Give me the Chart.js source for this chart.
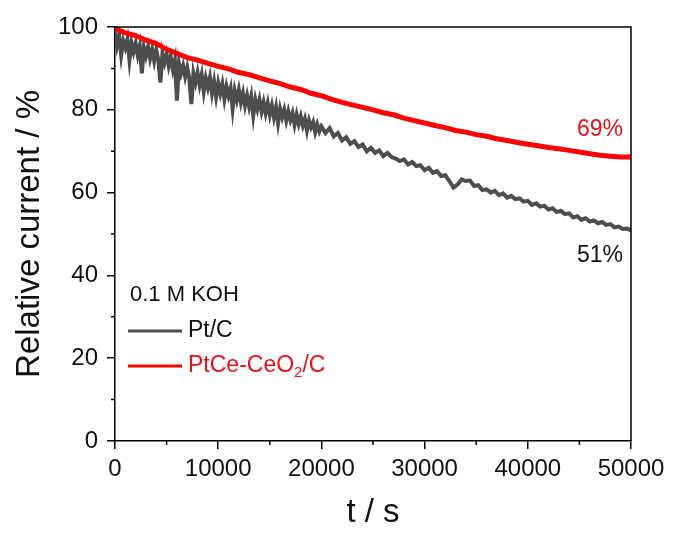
<!DOCTYPE html>
<html>
<head>
<meta charset="utf-8">
<script src="https://cdn.jsdelivr.net/npm/chart.js@4.4.1/dist/chart.umd.min.js"></script>
<style>
  html, body { margin: 0; padding: 0; background: #fff; }
  #wrap { width: 675px; height: 535px; }
</style>
</head>
<body>
<div id="wrap"><canvas id="c" width="675" height="535"></canvas></div>
<script>
// Pt/C chronoamperometry: 200 s steps up to 20000 s, then 400 s
const ptTime = [
  0, 200, 400, 600, 800, 1000, 1200, 1400, 1600, 1800,
  2000, 2200, 2400, 2600, 2800, 3000, 3200, 3400, 3600, 3800,
  4000, 4200, 4400, 4600, 4800, 5000, 5200, 5400, 5600, 5800,
  6000, 6200, 6400, 6600, 6800, 7000, 7200, 7400, 7600, 7800,
  8000, 8200, 8400, 8600, 8800, 9000, 9200, 9400, 9600, 9800,
  10000, 10200, 10400, 10600, 10800, 11000, 11200, 11400, 11600, 11800,
  12000, 12200, 12400, 12600, 12800, 13000, 13200, 13400, 13600, 13800,
  14000, 14200, 14400, 14600, 14800, 15000, 15200, 15400, 15600, 15800,
  16000, 16200, 16400, 16600, 16800, 17000, 17200, 17400, 17600, 17800,
  18000, 18200, 18400, 18600, 18800, 19000, 19200, 19400, 19600, 19800,
  20000, 20400, 20800, 21200, 21600, 22000, 22400, 22800, 23200, 23600,
  24000, 24400, 24800, 25200, 25600, 26000, 26400, 26800, 27200, 27600,
  28000, 28400, 28800, 29200, 29600, 30000, 30400, 30800, 31200, 31600,
  32000, 32400, 32800, 33200, 33600, 34000, 34400, 34800, 35200, 35600,
  36000, 36400, 36800, 37200, 37600, 38000, 38400, 38800, 39200, 39600,
  40000, 40400, 40800, 41200, 41600, 42000, 42400, 42800, 43200, 43600,
  44000, 44400, 44800, 45200, 45600, 46000, 46400, 46800, 47200, 47600,
  48000, 48400, 48800, 49200, 49600, 50000
];
const ptCurrent = [
  99.0, 95.5, 97.8, 93.2, 96.6, 95.0, 97.0, 92.0, 96.2, 94.0,
  96.0, 93.2, 95.4, 88.8, 95.0, 93.0, 95.2, 92.4, 94.6, 91.8,
  94.4, 92.0, 86.6, 93.6, 91.4, 93.4, 90.6, 92.8, 89.8, 92.0,
  82.2, 91.2, 88.8, 90.6, 88.0, 90.2, 87.6, 81.4, 88.8, 86.6,
  89.0, 86.0, 88.4, 84.4, 87.6, 85.4, 87.8, 84.0, 86.8, 83.2,
  86.4, 84.0, 86.2, 82.6, 85.6, 83.4, 85.2, 80.2, 84.6, 82.4,
  84.8, 81.8, 84.0, 81.0, 83.4, 80.8, 83.2, 78.6, 82.4, 80.2,
  82.4, 79.6, 81.8, 79.2, 81.6, 78.8, 81.0, 78.2, 80.6, 76.8,
  80.2, 78.2, 80.0, 77.4, 79.6, 77.6, 79.2, 76.4, 78.8, 76.6,
  78.4, 76.2, 77.8, 75.0, 77.4, 75.8, 77.0, 74.6, 76.4, 74.8,
  76.0, 74.4, 75.6, 73.6, 74.4, 72.6, 73.4, 71.8, 72.4, 71.0,
  71.6, 70.0, 70.8, 69.6, 70.2, 68.8, 69.6, 68.6, 68.2, 67.6,
  68.0, 66.8, 67.4, 66.4, 66.6, 65.4, 66.0, 64.8, 65.2, 64.0,
  64.2, 62.8, 61.2, 62.0, 63.2, 62.8, 62.9, 61.6, 61.8, 60.6,
  60.8, 60.0, 60.4, 59.4, 59.8, 58.8, 59.2, 58.4, 58.6, 57.8,
  58.0, 57.0, 57.4, 56.6, 56.8, 55.9, 56.2, 55.3, 55.6, 54.8,
  55.0, 54.0, 54.3, 53.4, 53.8, 53.0, 53.3, 52.6, 52.9, 52.2,
  52.4, 51.6, 51.8, 51.2, 51.3, 50.9
];

// PtCe-CeO2/C, sampled every 1000 s
const ptceTime = [
  0, 1000, 2000, 3000, 4000, 5000, 6000, 7000, 8000, 9000,
  10000, 11000, 12000, 13000, 14000, 15000, 16000, 17000, 18000, 19000,
  20000, 21000, 22000, 23000, 24000, 25000, 26000, 27000, 28000, 29000,
  30000, 31000, 32000, 33000, 34000, 35000, 36000, 37000, 38000, 39000,
  40000, 41000, 42000, 43000, 44000, 45000, 46000, 47000, 48000, 49000,
  50000
];
const ptceCurrent = [
  99.6, 98.6, 97.9, 96.8, 96.0, 94.6, 93.6, 92.6, 92.0, 91.2,
  90.5, 89.9, 89.0, 88.5, 87.7, 87.0, 86.3, 85.5, 84.9, 84.0,
  83.4, 82.5, 81.8, 81.2, 80.6, 80.0, 79.3, 78.8, 78.0, 77.4,
  76.8, 76.2, 75.7, 75.0, 74.6, 74.0, 73.6, 73.0, 72.6, 72.1,
  71.7, 71.3, 70.9, 70.6, 70.2, 69.8, 69.4, 69.0, 68.8, 68.6,
  68.6
];

const xTicks = [0, 10000, 20000, 30000, 40000, 50000];
const yTicks = [0, 20, 40, 60, 80, 100];
const xMinor = [5000, 15000, 25000, 35000, 45000];
const yMinor = [10, 30, 50, 70, 90];

// end-of-test retention labels: [t, value, text]
const labelPtce = [47000, 75.1, '69%'];
const labelPt = [47000, 44.8, '51%'];

const GRAY = '#4d4d4d';
const RED = '#ff0000';
const FONT = "'Liberation Sans', Arial, sans-serif";

const toXY = (ts, vs) => ts.map((t, i) => ({ x: t, y: vs[i] }));

const framePlugin = {
    id: 'frame',
    afterDraw(chart) {
        const { ctx, chartArea: a, scales: { x, y } } = chart;
        ctx.save();
        ctx.strokeStyle = '#000';
        ctx.lineWidth = 1.5;

        // top and right box lines
        ctx.beginPath();
        ctx.moveTo(a.left, a.top);
        ctx.lineTo(a.right, a.top);
        ctx.lineTo(a.right, a.bottom);
        ctx.stroke();

        // minor ticks, outward
        ctx.beginPath();
        xMinor.forEach(v => {
            const px = x.getPixelForValue(v);
            ctx.moveTo(px, a.bottom);
            ctx.lineTo(px, a.bottom + 4);
        });
        yMinor.forEach(v => {
            const py = y.getPixelForValue(v);
            ctx.moveTo(a.left, py);
            ctx.lineTo(a.left - 4, py);
        });
        ctx.stroke();

        // retention labels
        ctx.font = `23px ${FONT}`;
        ctx.textAlign = 'center';
        ctx.textBaseline = 'middle';
        ctx.fillStyle = '#e8101a';
        ctx.fillText(labelPtce[2], x.getPixelForValue(labelPtce[0]), y.getPixelForValue(labelPtce[1]));
        ctx.fillStyle = '#111';
        ctx.fillText(labelPt[2], x.getPixelForValue(labelPt[0]), y.getPixelForValue(labelPt[1]));

        // legend block
        const lx = a.left + 13;
        ctx.textAlign = 'left';
        ctx.fillStyle = '#111';
        ctx.font = `22px ${FONT}`;
        ctx.fillText('0.1 M KOH', a.left + 15, 295);

        ctx.lineWidth = 3;
        ctx.strokeStyle = GRAY;
        ctx.beginPath();
        ctx.moveTo(lx, 331);
        ctx.lineTo(lx + 54, 331);
        ctx.stroke();
        ctx.font = `23px ${FONT}`;
        ctx.fillStyle = '#111';
        ctx.fillText('Pt/C', lx + 60, 331);

        ctx.strokeStyle = RED;
        ctx.beginPath();
        ctx.moveTo(lx, 366);
        ctx.lineTo(lx + 54, 366);
        ctx.stroke();
        ctx.fillStyle = '#e8101a';
        let tx = lx + 60;
        ctx.fillText('PtCe-CeO', tx, 366);
        tx += ctx.measureText('PtCe-CeO').width;
        ctx.font = `15px ${FONT}`;
        ctx.fillText('2', tx, 373);
        tx += ctx.measureText('2').width;
        ctx.font = `23px ${FONT}`;
        ctx.fillText('/C', tx, 366);
        ctx.restore();
    }
};

new Chart(document.getElementById('c'), {
    type: 'line',
    data: {
        datasets: [
            {
                label: 'PtCe-CeO2/C',
                data: toXY(ptceTime, ptceCurrent),
                borderColor: RED,
                borderWidth: 5,
                pointRadius: 0,
                tension: 0,
                order: 0
            },
            {
                label: 'Pt/C',
                data: toXY(ptTime, ptCurrent),
                borderColor: GRAY,
                borderWidth: 4,
                pointRadius: 0,
                tension: 0,
                order: 1
            }
        ]
    },
    options: {
        responsive: false,
        animation: false,
        layout: { padding: { left: 0, right: 44, top: 27, bottom: 0 } },
        plugins: {
            legend: { display: false },
            tooltip: { enabled: false }
        },
        scales: {
            x: {
                type: 'linear',
                min: 0,
                max: 50000,
                afterFit: s => { s.height = 94; },
                afterBuildTicks: s => { s.ticks = xTicks.map(v => ({ value: v })); },
                ticks: {
                    color: '#111',
                    font: { family: FONT, size: 24 },
                    padding: 6,
                    maxRotation: 0,
                    callback: v => String(v)
                },
                grid: { drawOnChartArea: false, drawTicks: true, tickLength: 8, color: '#000', lineWidth: 1.5 },
                border: { color: '#000', width: 1.5 },
                title: {
                    display: true,
                    text: 't / s',
                    color: '#111',
                    font: { family: FONT, size: 33 },
                    padding: { top: 0, bottom: 2 }
                }
            },
            y: {
                type: 'linear',
                min: 0,
                max: 100,
                afterFit: s => { s.width = 115; },
                afterBuildTicks: s => { s.ticks = yTicks.map(v => ({ value: v })); },
                ticks: {
                    color: '#111',
                    font: { family: FONT, size: 24 },
                    padding: 9
                },
                grid: { drawOnChartArea: false, drawTicks: true, tickLength: 8, color: '#000', lineWidth: 1.5 },
                border: { color: '#000', width: 1.5 },
                title: {
                    display: true,
                    text: 'Relative current / %',
                    color: '#111',
                    font: { family: FONT, size: 33 },
                    padding: { top: 10, bottom: 0 }
                }
            }
        }
    },
    plugins: [framePlugin]
});
</script>
</body>
</html>
